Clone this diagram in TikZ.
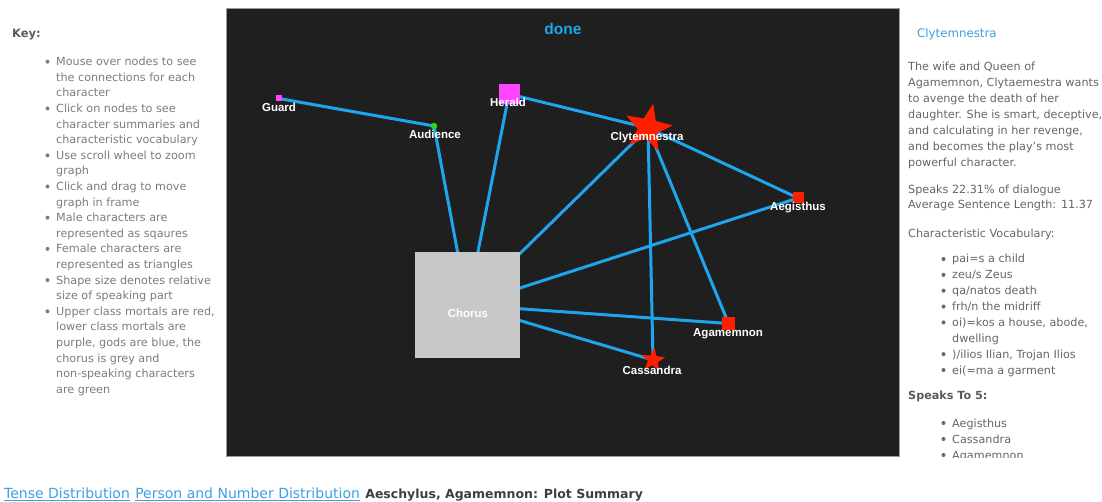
\documentclass[tikz,border=0pt]{standalone}
\usepackage{fontspec}
\setmainfont{DejaVu Sans}
\newfontfamily\graphfont{Liberation Sans}
\usetikzlibrary{shapes.geometric}

\definecolor{stagebg}{HTML}{1F1F1F}
\definecolor{stageframe}{HTML}{9A9A9A}
\definecolor{wireblue}{HTML}{1EA5EC}
\definecolor{castred}{HTML}{FF1E00}
\definecolor{castpurple}{HTML}{FF44FF}
\definecolor{castgreen}{HTML}{22DD11}
\definecolor{chorusgrey}{HTML}{C8C8C8}
\definecolor{keytext}{HTML}{7C7C7C}
\definecolor{infotext}{HTML}{666666}
\definecolor{headtext}{HTML}{5A5A5A}
\definecolor{linkblue}{HTML}{3BA0E6}

\pgfdeclarelayer{paper}
\pgfdeclarelayer{wires}
\pgfsetlayers{paper,wires,main}

\tikzset{
  wire/.style={draw=wireblue, line width=3pt},
  castname/.style={anchor=base, inner sep=0, text=white,
    font=\graphfont\bfseries\fontsize{11.5}{12}\selectfont},
  malebox/.style={rectangle, inner sep=0, draw=none},
  femalestar/.style={star, star points=5, star point ratio=2.4, inner sep=0, fill=castred},
  keyline/.style={anchor=base west, inner sep=0, text=keytext,
    font=\fontsize{11.2}{13}\selectfont},
  infoline/.style={anchor=base west, inner sep=0, text=infotext,
    font=\fontsize{11.2}{13}\selectfont},
  dot/.style={circle, inner sep=0, minimum size=4pt},
}

\begin{document}
\begin{tikzpicture}[x=1pt,y=-1pt]
\useasboundingbox (0,0) rectangle (1102,502);

% page and the dark stage
\begin{pgfonlayer}{paper}
  \fill[white] (0,0) rectangle (1102,502);
  \draw[fill=stagebg, draw=stageframe, line width=1pt] (226.5,8.5) rectangle (899.5,456.5);
\end{pgfonlayer}

% ---- character network ----
\node[malebox, fill=castpurple, minimum size=6pt] (guard) at (279,98.5) {};
\node[circle, inner sep=0, fill=castgreen, minimum size=6.5pt] (audience) at (434,126) {};
\node[malebox, fill=castpurple, minimum width=21pt, minimum height=20pt] (herald) at (509,94) {};
\node[femalestar, minimum size=50pt, rotate=-12] (clyt) at (648,128) {};
\node[malebox, fill=castred, minimum size=11pt] (aegisthus) at (798,198) {};
\node[malebox, fill=chorusgrey, minimum size=105pt] (chorus) at (467.5,305) {};
\node[malebox, fill=castred, minimum size=13pt] (agamemnon) at (728.5,323.5) {};
\node[femalestar, minimum size=25pt, rotate=-6] (cassandra) at (653,360) {};

\begin{pgfonlayer}{wires}
  \draw[wire] (guard.center) -- (audience.center);
  \draw[wire] (audience.center) -- (chorus.center);
  \draw[wire] (herald.center) -- (chorus.center);
  \draw[wire] (herald.center) -- (clyt.center);
  \draw[wire] (clyt.center) -- (chorus.center);
  \draw[wire] (clyt.center) -- (aegisthus.center);
  \draw[wire] (clyt.center) -- (agamemnon.center);
  \draw[wire] (clyt.center) -- (cassandra.center);
  \draw[wire] (chorus.center) -- (aegisthus.center);
  \draw[wire] (chorus.center) -- (agamemnon.center);
  \draw[wire] (chorus.center) -- (cassandra.center);
\end{pgfonlayer}

\node[castname] (guardname) at (279,112) {Guard};
\node[castname] (audiencename) at (435,139) {Audience};
\node[castname] (heraldname) at (508,107) {Herald};
\node[castname] (clytname) at (647,141) {Clytemnestra};
\node[castname] (aegisthusname) at (798,211) {Aegisthus};
\node[castname] (chorusname) at (468,317) {Chorus};
\node[castname] (agamemnonname) at (728,336) {Agamemnon};
\node[castname] (cassandraname) at (652,374) {Cassandra};

\node[anchor=base, inner sep=0, text=wireblue,
  font=\graphfont\bfseries\fontsize{15.5}{16}\selectfont] (status) at (563,34.5) {done};

% ---- key ----
\node[anchor=base west, inner sep=0, text=headtext,
  font=\bfseries\fontsize{11.5}{13}\selectfont] (keyhead) at (12,37.5) {Key:};
\foreach \t [count=\i from 0] in {
  Mouse over nodes to see, the connections for each, character,
  Click on nodes to see, character summaries and, characteristic vocabulary,
  Use scroll wheel to zoom, graph,
  Click and drag to move, graph in frame,
  Male characters are, represented as sqaures,
  Female characters are, represented as triangles,
  Shape size denotes relative, size of speaking part,
  {Upper class mortals are red,}, lower class mortals are,
  {purple, gods are blue, the}, chorus is grey and,
  non-speaking characters, are green}
  \node[keyline] (key\i) at (56,65.7+15.6*\i) {\t};
\foreach \i in {0,3,6,8,10,12,14,16}
  \node[dot, fill=keytext] (keydot\i) at ([xshift=-8.5pt,yshift=4pt]key\i.base west) {};

% ---- character panel (scrolling box, cut off at the foot) ----
\begin{scope}
  \clip (901,12) rectangle (1102,457.5);
  \node[anchor=base west, inner sep=0, text=linkblue,
    font=\fontsize{11.8}{13}\selectfont] (infohead) at (917,38) {Clytemnestra};
  \foreach \t [count=\i from 0] in {
    The wife and Queen of,
    {Agamemnon, Clytaemestra wants},
    to avenge the death of her,
    {daughter. She is smart, deceptive,},
    {and calculating in her revenge,},
    and becomes the play’s most,
    powerful character.}
    \node[infoline] (info\i) at (908,71+15.95*\i) {\t};
  \node[infoline] (speaksline) at (908,193.5) {Speaks 22.31\% of dialogue};
  \node[infoline] (lengthline) at (908,208.5) {Average Sentence Length: 11.37};
  \node[infoline] (vocabhead) at (908,238) {Characteristic Vocabulary:};
  \foreach \t [count=\i from 0] in {
    pai=s a child,
    zeu/s Zeus,
    qa/natos death,
    frh/n the midriff,
    {oi)=kos a house, abode,},
    dwelling,
    {)/ilios Ilian, Trojan Ilios},
    ei(=ma a garment}
    \node[infoline] (vocab\i) at (952,263+15.86*\i) {\t};
  \foreach \i in {0,1,2,3,4,6,7}
    \node[dot, fill=infotext] (vocabdot\i) at ([xshift=-8.5pt,yshift=4pt]vocab\i.base west) {};
  \node[infoline, text=headtext, font=\bfseries\fontsize{11.2}{13}\selectfont]
    (speakshead) at (908,399) {Speaks To 5:};
  \foreach \t [count=\i from 0] in {Aegisthus, Cassandra, Agamemnon}
    \node[infoline] (partner\i) at (952,427+16*\i) {\t};
  \foreach \i in {0,1,2}
    \node[dot, fill=infotext] (partnerdot\i) at ([xshift=-8.5pt,yshift=4pt]partner\i.base west) {};
\end{scope}

% ---- links along the foot ----
\node[anchor=base west, inner sep=0, text=linkblue, font=\fontsize{14}{16}\selectfont]
  (tense) at (4,498.5) {\underline{Tense Distribution}};
\node[anchor=base west, inner sep=0, text=linkblue, font=\fontsize{14}{16}\selectfont]
  (person) at ([xshift=5pt]tense.base east) {\underline{Person and Number Distribution}};
\node[anchor=base west, inner sep=0, text=black!75, font=\bfseries\fontsize{12.5}{16}\selectfont]
  (summary) at ([xshift=5pt]person.base east) {Aeschylus, Agamemnon: Plot Summary};
\end{tikzpicture}
\end{document}
